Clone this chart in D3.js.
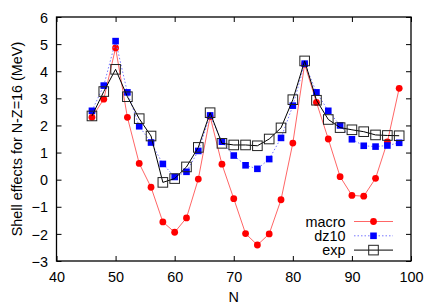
<!DOCTYPE html>
<html>
<head>
<meta charset="utf-8">
<script src="https://cdn.jsdelivr.net/npm/d3@7"></script>
<style>
  body { margin: 0; background: #fff; }
  text { font-family: 'Liberation Sans', Arial, sans-serif; font-size: 14.4px; fill: #000; }
</style>
</head>
<body>
<svg width="436" height="305"></svg>
<script>
const nValues = [46, 48, 50, 52, 54, 56, 58, 60, 62, 64, 66, 68, 70, 72, 74, 76, 78, 80, 82, 84, 86, 88, 90, 92, 94, 96, 98];
const macro = [2.30, 2.97, 4.86, 2.30, 0.60, -0.28, -1.56, -1.94, -1.41, 0.02, 2.33, 0.57, -0.70, -1.99, -2.41, -2.00, -0.74, 1.35, 4.26, 2.85, 1.50, 0.11, -0.58, -0.61, 0.05, 1.39, 3.37];
const dz10 = [2.54, 3.47, 5.11, 3.22, 1.97, 1.37, 0.58, 0.10, 0.29, 1.06, 2.37, 1.40, 0.89, 0.53, 0.40, 0.76, 1.54, 2.73, 4.28, 3.22, 2.54, 2.00, 1.49, 1.25, 1.22, 1.26, 1.36];
const expt = [2.35, 3.25, 4.07, 3.06, 2.25, 1.61, -0.10, 0.04, 0.47, 1.19, 2.47, 1.34, 1.28, 1.28, 1.25, 1.50, 1.91, 2.95, 4.38, 2.93, 2.22, 1.92, 1.84, 1.77, 1.65, 1.63, 1.62];
const xTicks = [40, 50, 60, 70, 80, 90, 100];
const yTicks = [-3, -2, -1, 0, 1, 2, 3, 4, 5, 6];

const svg = d3.select('svg');
const margin = { top: 17, right: 25, bottom: 44, left: 56.5 };
const width = +svg.attr('width');
const height = +svg.attr('height');
const innerWidth = width - margin.left - margin.right;
const innerHeight = height - margin.top - margin.bottom;

const xScale = d3.scaleLinear().domain([40, 100]).range([0, innerWidth]);
const yScale = d3.scaleLinear().domain([-3, 6]).range([innerHeight, 0]);

const g = svg.append('g').attr('transform', `translate(${margin.left}, ${margin.top})`);

// mirrored inward ticks on all four sides
const tickLen = 5;
const addAxis = (axis, transform, labels) => {
  const ag = g.append('g').attr('transform', transform).call(axis);
  ag.select('.domain').remove();
  ag.attr('font-size', null).attr('font-family', null);
  ag.selectAll('line').attr('stroke', '#000');
  if (!labels) ag.selectAll('text').remove();
  return ag;
};
const xb = addAxis(d3.axisBottom(xScale).tickValues(xTicks).tickSize(-tickLen), `translate(0, ${innerHeight})`, true);
addAxis(d3.axisTop(xScale).tickValues(xTicks).tickSize(-tickLen), 'translate(0, 0)', false);
const yl = addAxis(d3.axisLeft(yScale).tickValues(yTicks).tickSize(-tickLen).tickPadding(8.5), 'translate(0, 0)', true);
addAxis(d3.axisRight(yScale).tickValues(yTicks).tickSize(-tickLen), `translate(${innerWidth}, 0)`, false);
xb.selectAll('text').attr('y', 20.5).attr('dy', null).attr('fill', '#000');
yl.selectAll('text').attr('dy', '0.36em').attr('fill', '#000');

g.append('rect')
  .attr('width', innerWidth)
  .attr('height', innerHeight)
  .attr('fill', 'none')
  .attr('stroke', '#000')
  .attr('stroke-width', 1.3);

const series = [
  { name: 'macro', values: macro, color: '#ff0000', lineColor: '#ff6666', dash: null, marker: 'circle' },
  { name: 'dz10', values: dz10, color: '#0000ff', lineColor: '#7777ff', dash: '1.5,2', marker: 'fsquare' },
  { name: 'exp', values: expt, color: '#222', lineColor: '#000', dash: null, marker: 'osquare' }
];

const line = d3.line().x((d) => xScale(d[0])).y((d) => yScale(d[1]));

const drawMarker = (sel, s, x, y) => {
  if (s.marker === 'circle') {
    sel.append('circle').attr('cx', x).attr('cy', y).attr('r', 3.4).attr('fill', s.color);
  } else if (s.marker === 'fsquare') {
    sel.append('rect').attr('x', x - 3.3).attr('y', y - 3.3).attr('width', 6.6).attr('height', 6.6).attr('fill', s.color);
  } else {
    sel.append('rect').attr('x', x - 4.8).attr('y', y - 4.8).attr('width', 9.6).attr('height', 9.6)
      .attr('fill', 'none').attr('stroke', s.color).attr('stroke-width', 1);
  }
};

series.forEach((s) => {
  const pts = nValues.map((n, i) => [n, s.values[i]]);
  g.append('path')
    .attr('d', line(pts))
    .attr('fill', 'none')
    .attr('stroke', s.lineColor)
    .attr('stroke-width', 1)
    .attr('stroke-dasharray', s.dash);
  const mg = g.append('g');
  pts.forEach((p) => drawMarker(mg, s, xScale(p[0]), yScale(p[1])));
});

// legend
const legend = svg.append('g');
series.forEach((s, i) => {
  const y = 221.5 + i * 14.3;
  legend.append('text').attr('x', 345.5).attr('y', y + 5).attr('text-anchor', 'end').text(s.name);
  legend.append('line')
    .attr('x1', 354).attr('x2', 393).attr('y1', y).attr('y2', y)
    .attr('stroke', s.lineColor).attr('stroke-width', 1).attr('stroke-dasharray', s.dash);
  drawMarker(legend, s, 373.5, y);
});

svg.append('text')
  .attr('transform', 'translate(22, 139) rotate(-90)')
  .attr('text-anchor', 'middle')
  .text('Shell effects for N-Z=16 (MeV)');

svg.append('text')
  .attr('x', margin.left + innerWidth / 2)
  .attr('y', 301.5)
  .attr('text-anchor', 'middle')
  .text('N');
</script>
</body>
</html>
